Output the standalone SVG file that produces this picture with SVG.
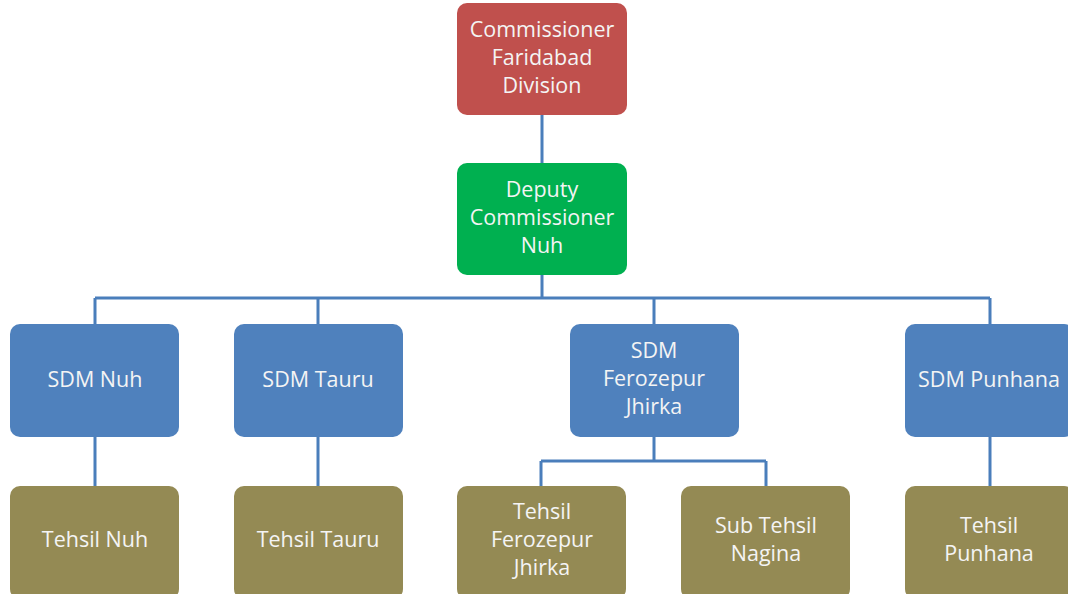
<svg xmlns="http://www.w3.org/2000/svg" width="1068" height="594" viewBox="0 0 1068 594">
<style>
.box{stroke:none}
.red{fill:#C0504D}
.green{fill:#00B050}
.blue{fill:#4F81BD}
.olive{fill:#948A54}
text{font-family:"Open Sans","Liberation Sans",sans-serif;font-size:21.5px;fill:#F4F4F4;text-anchor:middle}
.conn{fill:none;stroke:#4A7EBB;stroke-width:3}
</style>
<rect width="1068" height="594" fill="#FFFFFF"/>
<g id="connectors">
<path class="conn" d="M542 114V164M542 274V298M95 298H990M95 298V325M318 298V325M654 298V325M990 298V325"/>
<path class="conn" d="M95 436V487M318 436V487M990 436V487"/>
<path class="conn" d="M654 436V461M541 461H766M541 461V487M766 461V487"/>
</g>
<g id="commissioner">
<rect class="box red" x="457" y="3" width="170" height="112" rx="10"/>
<text x="542" y="37">Commissioner</text>
<text x="542" y="65">Faridabad</text>
<text x="542" y="93">Division</text>
</g>
<g id="deputy-commissioner">
<rect class="box green" x="457" y="163" width="170" height="112" rx="10"/>
<text x="542" y="197">Deputy</text>
<text x="542" y="225">Commissioner</text>
<text x="542" y="253">Nuh</text>
</g>
<g id="sdm-nuh">
<rect class="box blue" x="10" y="324" width="169" height="113" rx="10"/>
<text x="95" y="387">SDM Nuh</text>
</g>
<g id="sdm-tauru">
<rect class="box blue" x="234" y="324" width="169" height="113" rx="10"/>
<text x="318" y="387">SDM Tauru</text>
</g>
<g id="sdm-ferozepur">
<rect class="box blue" x="570" y="324" width="169" height="113" rx="10"/>
<text x="654" y="358">SDM</text>
<text x="654" y="386">Ferozepur</text>
<text x="654" y="414">Jhirka</text>
</g>
<g id="sdm-punhana">
<rect class="box blue" x="905" y="324" width="169" height="113" rx="10"/>
<text x="989" y="387">SDM Punhana</text>
</g>
<g id="tehsil-nuh">
<rect class="box olive" x="10" y="486" width="169" height="113" rx="10"/>
<text x="95" y="547">Tehsil Nuh</text>
</g>
<g id="tehsil-tauru">
<rect class="box olive" x="234" y="486" width="169" height="113" rx="10"/>
<text x="318" y="547">Tehsil Tauru</text>
</g>
<g id="tehsil-ferozepur">
<rect class="box olive" x="457" y="486" width="169" height="113" rx="10"/>
<text x="542" y="519">Tehsil</text>
<text x="542" y="547">Ferozepur</text>
<text x="542" y="575">Jhirka</text>
</g>
<g id="sub-tehsil-nagina">
<rect class="box olive" x="681" y="486" width="169" height="113" rx="10"/>
<text x="766" y="533">Sub Tehsil</text>
<text x="766" y="561">Nagina</text>
</g>
<g id="tehsil-punhana">
<rect class="box olive" x="905" y="486" width="169" height="113" rx="10"/>
<text x="989" y="533">Tehsil</text>
<text x="989" y="561">Punhana</text>
</g>
</svg>
